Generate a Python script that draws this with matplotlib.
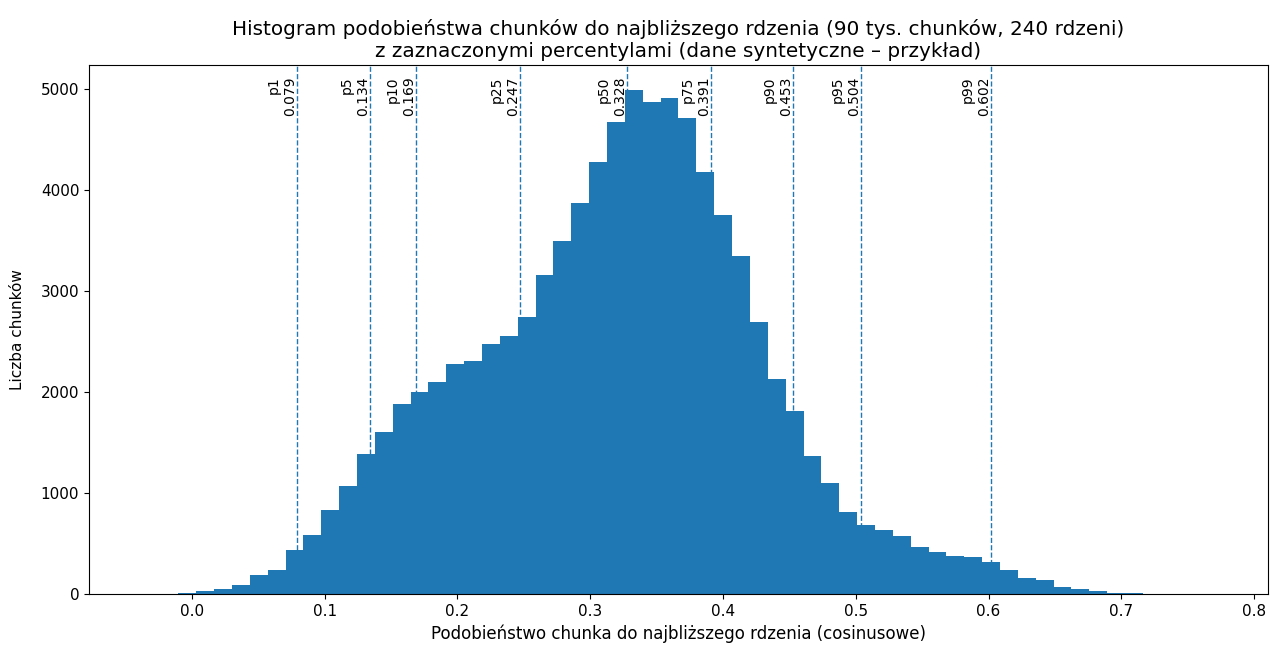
import numpy as np
import matplotlib
matplotlib.use("Agg")
import matplotlib.pyplot as plt
from matplotlib.transforms import blended_transform_factory

# Histogram bins (60 bins spanning the data range)
bin_lo = -0.037
bin_hi = 0.770
n_bins = 60

counts = [1, 2, 10, 30, 46, 89, 188, 241, 432, 585,
          833, 1067, 1385, 1607, 1885, 1997, 2099, 2275, 2308, 2480,
          2553, 2741, 3158, 3498, 3869, 4279, 4676, 4990, 4877, 4911,
          4715, 4177, 3753, 3343, 2698, 2133, 1812, 1365, 1101, 816,
          687, 630, 571, 469, 417, 378, 367, 314, 238, 159,
          142, 66, 46, 30, 13, 6, 3, 1, 0, 1]

pct_names = ["p1", "p5", "p10", "p25", "p50", "p75", "p90", "p95", "p99"]
pct_values = [0.079, 0.134, 0.169, 0.247, 0.328, 0.391, 0.453, 0.504, 0.602]

title = ("Histogram podobieństwa chunków do najbliższego rdzenia (90 tys. chunków, 240 rdzeni)\n"
         "z zaznaczonymi percentylami (dane syntetyczne – przykład)")
xlabel = "Podobieństwo chunka do najbliższego rdzenia (cosinusowe)"
ylabel = "Liczba chunków"

edges = np.linspace(bin_lo, bin_hi, n_bins + 1)
centers = (edges[:-1] + edges[1:]) / 2

fig = plt.figure(figsize=(12.7, 6.45), dpi=100)
ax = fig.add_axes([0.0701, 0.0791, 0.9283, 0.8201])

ax.hist(centers, bins=edges, weights=counts, color="#1f77b4")
span = bin_hi - bin_lo
ax.set_xlim(bin_lo - 0.05 * span, bin_hi + 0.05 * span)

trans = blended_transform_factory(ax.transData, ax.transAxes)
for name, v in zip(pct_names, pct_values):
    ax.axvline(v, linestyle="--", linewidth=1, color="#1f77b4")
    ax.text(v, 0.978, f"{name}\n{v:.3f}", rotation=90, ha="right", va="top",
            fontsize=10, transform=trans)

ax.set_title(title, fontsize=14.4)
ax.set_xlabel(xlabel, fontsize=12)
ax.set_ylabel(ylabel, fontsize=11, labelpad=11)
ax.tick_params(labelsize=11)

fig.savefig("out.png", dpi=100)
